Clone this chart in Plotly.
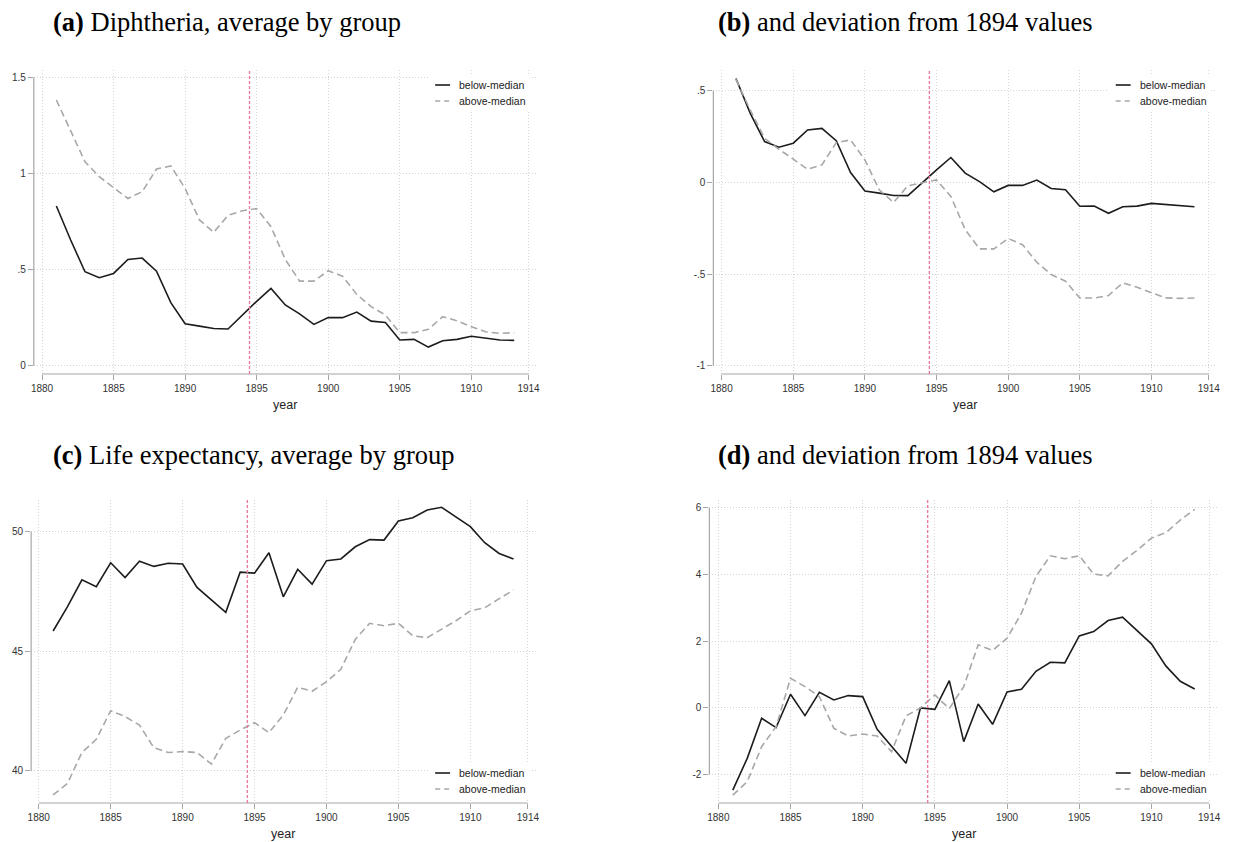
import plotly.graph_objects as go

# ---------------- data ----------------
years = list(range(1881, 1914))

diph_below = [0.831, 0.654, 0.489, 0.458, 0.480, 0.553, 0.560, 0.492, 0.328, 0.218,
              0.206, 0.194, 0.191, 0.265, 0.335, 0.402, 0.316, 0.270, 0.215, 0.251,
              0.250, 0.279, 0.232, 0.225, 0.134, 0.137, 0.097, 0.130, 0.137, 0.153,
              0.142, 0.134, 0.132]
diph_above = [1.382, 1.217, 1.061, 0.983, 0.926, 0.870, 0.905, 1.023, 1.039, 0.922,
              0.758, 0.694, 0.782, 0.806, 0.817, 0.723, 0.553, 0.440, 0.440, 0.494,
              0.466, 0.371, 0.307, 0.264, 0.172, 0.172, 0.189, 0.255, 0.234, 0.203,
              0.177, 0.168, 0.172]

diph_dev_below = [0.567, 0.377, 0.223, 0.192, 0.214, 0.286, 0.295, 0.228, 0.054, -0.047,
                  -0.058, -0.071, -0.072, 0.0, 0.069, 0.136, 0.051, 0.005, -0.051, -0.016,
                  -0.016, 0.013, -0.033, -0.040, -0.130, -0.129, -0.168, -0.132, -0.129, -0.114,
                  -0.121, -0.129, -0.132]
diph_dev_above = [0.562, 0.395, 0.241, 0.181, 0.127, 0.072, 0.096, 0.217, 0.232, 0.123,
                  -0.040, -0.109, -0.018, 0.0, 0.014, -0.076, -0.257, -0.362, -0.362, -0.306,
                  -0.339, -0.435, -0.502, -0.538, -0.630, -0.630, -0.616, -0.547, -0.571, -0.601,
                  -0.629, -0.632, -0.630]

life_below = [45.85, 46.87, 47.99, 47.70, 48.70, 48.08, 48.77, 48.55, 48.68, 48.65,
              47.67, 47.14, 46.63, 48.31, 48.27, 49.12, 47.28, 48.43, 47.81, 48.79,
              48.86, 49.37, 49.67, 49.65, 50.45, 50.58, 50.91, 51.02, 50.63, 50.21,
              49.54, 49.09, 48.86]
life_above = [39.00, 39.48, 40.77, 41.32, 42.52, 42.27, 41.92, 40.97, 40.77, 40.81,
              40.77, 40.29, 41.36, 41.71, 42.02, 41.60, 42.34, 43.50, 43.33, 43.73,
              44.25, 45.50, 46.17, 46.07, 46.17, 45.65, 45.57, 45.92, 46.28, 46.69,
              46.82, 47.20, 47.56]

life_dev_below = [-2.46, -1.51, -0.31, -0.59, 0.41, -0.23, 0.47, 0.24, 0.37, 0.34,
                  -0.64, -1.16, -1.66, 0.0, -0.04, 0.82, -1.01, 0.12, -0.49, 0.48,
                  0.56, 1.10, 1.37, 1.35, 2.16, 2.29, 2.62, 2.72, 2.32, 1.92,
                  1.26, 0.80, 0.57]
life_dev_above = [-2.61, -2.21, -1.16, -0.56, 0.89, 0.64, 0.34, -0.61, -0.84, -0.78,
                  -0.84, -1.31, -0.24, 0.0, 0.39, -0.02, 0.64, 1.89, 1.72, 2.09,
                  2.84, 3.94, 4.56, 4.47, 4.56, 4.01, 3.96, 4.39, 4.72, 5.09,
                  5.25, 5.63, 5.95]

x_ticks = [1880, 1885, 1890, 1895, 1900, 1905, 1910, 1914]
y_ticks_a = [0, 0.5, 1, 1.5]
y_labels_a = ["0", ".5", "1", "1.5"]
y_ticks_b = [-1, -0.5, 0, 0.5]
y_labels_b = ["-1", "-.5", "0", ".5"]
y_ticks_c = [40, 45, 50]
y_labels_c = ["40", "45", "50"]
y_ticks_d = [-2, 0, 2, 4, 6]
y_labels_d = ["-2", "0", "2", "4", "6"]

panel_titles = ["<b>(a)</b> Diphtheria, average by group",
                "<b>(b)</b> and deviation from 1894 values",
                "<b>(c)</b> Life expectancy, average by group",
                "<b>(d)</b> and deviation from 1894 values"]
series_names = ["below-median", "above-median"]
treatment_year = 1894.5

# ---------------- layout helpers ----------------
W, H = 1234, 842


def px_x(p):
    return p / W


def px_y(p):
    return 1 - p / H


panels = [
    dict(series=(diph_below, diph_above), yt=y_ticks_a, yl=y_labels_a,
         xdom=(31, 536), ydom=(70, 374), xr=(1879.424, 1914.49), yr=(-0.043, 1.538),
         leg_x=435, leg_y=(85, 101), title_xy=(48, 22)),
    dict(series=(diph_dev_below, diph_dev_above), yt=y_ticks_b, yl=y_labels_b,
         xdom=(715, 1222), ydom=(70, 374), xr=(1879.424, 1914.58), yr=(-1.044, 0.613),
         leg_x=1120, leg_y=(85, 101), title_xy=(718, 22)),
    dict(series=(life_below, life_above), yt=y_ticks_c, yl=y_labels_c,
         xdom=(28.3, 536), ydom=(500, 803), xr=(1879.47, 1914.53), yr=(38.66, 51.325),
         leg_x=435, leg_y=(773, 789), title_xy=(48, 455)),
    dict(series=(life_dev_below, life_dev_above), yt=y_ticks_d, yl=y_labels_d,
         xdom=(711, 1222), ydom=(500, 803), xr=(1879.38, 1914.55), yr=(-2.848, 6.231),
         leg_x=1120, leg_y=(773, 789), title_xy=(718, 455)),
]

SOLID = "#1c1c1c"
DASHED = "#a8a8a8"
DASH = "7px,4px"
AXIS_COL = "#a6a6a6"
GRID_COL = "#d4d4d4"
GRID_DASH = "1px,2px"
TICK_FONT = dict(family="Liberation Sans, Arial, sans-serif", size=10, color="#333333")
RED = "#ec7aa2"

fig = go.Figure()
shapes = []
annotations = []
layout = {}

for i, p in enumerate(panels, start=1):
    sfx = "" if i == 1 else str(i)
    xa, ya = "x" + sfx, "y" + sfx
    below, above = p["series"]
    fig.add_trace(go.Scatter(x=years, y=below, mode="lines", name=series_names[0],
                             line=dict(color=SOLID, width=1.6), xaxis=xa, yaxis=ya,
                             showlegend=False))
    fig.add_trace(go.Scatter(x=years, y=above, mode="lines", name=series_names[1],
                             line=dict(color=DASHED, width=1.6, dash=DASH), xaxis=xa, yaxis=ya,
                             showlegend=False))

    layout["xaxis" + sfx] = dict(
        domain=[px_x(p["xdom"][0]), px_x(p["xdom"][1])], range=list(p["xr"]),
        anchor=ya, tickvals=x_ticks, ticktext=[str(t) for t in x_ticks],
        ticks="outside", ticklen=5, tickcolor=AXIS_COL, tickwidth=1,
        showline=False, zeroline=False, showgrid=True, gridcolor=GRID_COL,
        griddash=GRID_DASH, gridwidth=1, tickfont=TICK_FONT, fixedrange=True)
    layout["yaxis" + sfx] = dict(
        domain=[px_y(p["ydom"][1]), px_y(p["ydom"][0])], range=list(p["yr"]),
        anchor=xa, tickvals=p["yt"], ticktext=p["yl"],
        ticks="outside", ticklen=5, tickcolor=AXIS_COL, tickwidth=1,
        showline=False, zeroline=False, showgrid=True, gridcolor=GRID_COL,
        griddash=GRID_DASH, gridwidth=1, tickfont=TICK_FONT, fixedrange=True)

    # axis lines spanning the tick range (Stata style)
    shapes.append(dict(type="line", xref=xa, yref=ya + " domain",
                       x0=x_ticks[0], x1=x_ticks[-1], y0=0, y1=0,
                       line=dict(color=AXIS_COL, width=1.2)))
    shapes.append(dict(type="line", xref=xa + " domain", yref=ya,
                       x0=0, x1=0, y0=p["yt"][0], y1=p["yt"][-1],
                       line=dict(color=AXIS_COL, width=1.2)))
    # treatment line
    shapes.append(dict(type="line", xref=xa, yref=ya + " domain",
                       x0=treatment_year, x1=treatment_year, y0=0, y1=1,
                       line=dict(color=RED, width=1.4, dash="3px,2px")))

    # legend (manual, Stata-like)
    lx = p["leg_x"]
    ly1, ly2 = p["leg_y"]
    shapes.append(dict(type="rect", xref="paper", yref="paper",
                       x0=px_x(lx - 7), x1=px_x(lx + 95), y0=px_y(ly2 + 9), y1=px_y(ly1 - 9),
                       fillcolor="white", line=dict(width=0), layer="above"))
    shapes.append(dict(type="line", xref="paper", yref="paper",
                       x0=px_x(lx), x1=px_x(lx + 15), y0=px_y(ly1), y1=px_y(ly1),
                       line=dict(color=SOLID, width=1.6)))
    shapes.append(dict(type="line", xref="paper", yref="paper",
                       x0=px_x(lx), x1=px_x(lx + 15), y0=px_y(ly2), y1=px_y(ly2),
                       line=dict(color=DASHED, width=1.6, dash="5px,4px")))
    for name, yy in zip(series_names, (ly1, ly2)):
        annotations.append(dict(text=name, xref="paper", yref="paper",
                                x=px_x(lx + 22), y=px_y(yy), xanchor="left", yanchor="middle",
                                showarrow=False,
                                font=dict(family="Liberation Sans, Arial, sans-serif",
                                          size=10.5, color="#222222")))

    # x-axis title
    annotations.append(dict(text="year", xref=xa, yref="paper",
                            x=(x_ticks[0] + x_ticks[-1]) / 2, y=px_y(p["ydom"][1] + 31),
                            xanchor="center", yanchor="middle", showarrow=False,
                            font=dict(family="Liberation Sans, Arial, sans-serif",
                                      size=12.5, color="#222222")))

    # panel title
    tx, ty = p["title_xy"]
    annotations.append(dict(text=panel_titles[i - 1], xref="paper", yref="paper",
                            x=px_x(tx), y=px_y(ty), xanchor="left", yanchor="middle",
                            showarrow=False,
                            font=dict(family="Liberation Serif, Times New Roman, serif",
                                      size=26.5, color="#000000")))

fig.update_layout(
    width=W, height=H, margin=dict(l=0, r=0, t=0, b=0),
    paper_bgcolor="white", plot_bgcolor="white",
    showlegend=False, shapes=shapes, annotations=annotations,
    **layout)

fig.write_html("out.html", config=dict(displayModeBar=False))
